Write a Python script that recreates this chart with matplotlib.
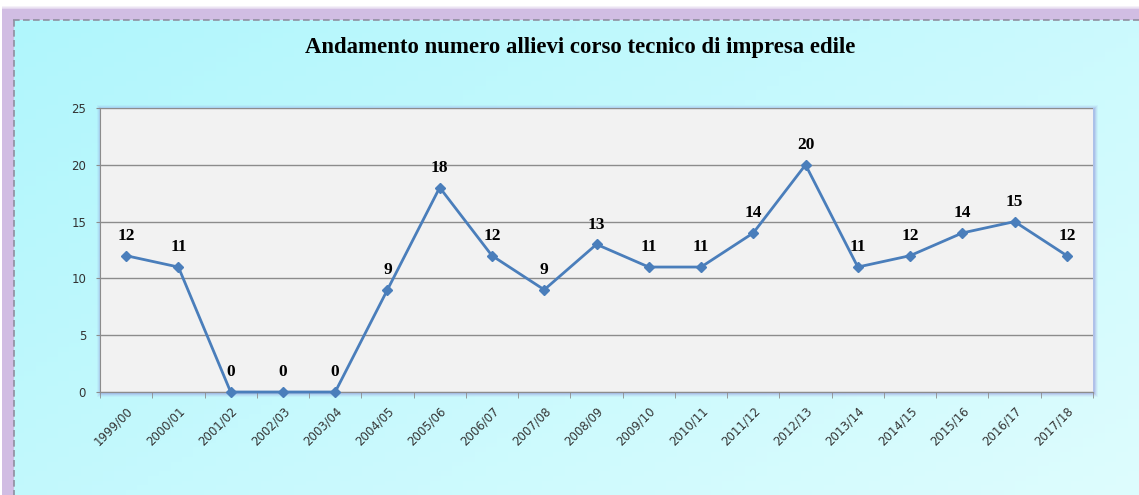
import matplotlib
matplotlib.use("Agg")
import matplotlib.pyplot as plt
import numpy as np
from matplotlib.patches import Rectangle

years = ["1999/00", "2000/01", "2001/02", "2002/03", "2003/04", "2004/05", "2005/06",
         "2006/07", "2007/08", "2008/09", "2009/10", "2010/11", "2011/12", "2012/13",
         "2013/14", "2014/15", "2015/16", "2016/17", "2017/18"]
students = [12, 11, 0, 0, 0, 9, 18, 12, 9, 13, 11, 11, 14, 20, 11, 12, 14, 15, 12]
title = "Andamento numero allievi corso tecnico di impresa edile"

W, H = 1139, 495
fig = plt.figure(figsize=(W / 100, H / 100), dpi=100)
fig.patch.set_facecolor("white")

# background with gradient and frame
bg = fig.add_axes([0, 0, 1, 1])
bg.set_xlim(0, W)
bg.set_ylim(H, 0)
bg.axis("off")
yy, xx = np.mgrid[0:100, 0:100] / 99.0
t = (xx * 0.6 + yy * 0.4)
c0 = np.array([0.69, 0.965, 0.99])
c1 = np.array([0.87, 0.99, 0.995])
img = c0[None, None, :] * (1 - t[..., None]) + c1[None, None, :] * t[..., None]
bg.imshow(img, extent=[13, W, H, 19], aspect="auto", zorder=0)
# purple frame (top and left)
purple = (0.82, 0.74, 0.89)
bg.add_patch(Rectangle((2, 9), W, 11, color=purple, lw=0, zorder=1))
bg.add_patch(Rectangle((2, 9), 11.5, H, color=purple, lw=0, zorder=1))
for i, a in enumerate([0.2, 0.4, 0.6]):
    bg.add_patch(Rectangle((2, 6 + i), W, 1, color=purple, alpha=a, lw=0, zorder=1))
bg.plot([13, W], [19.5, 19.5], color="#8f8f9f", lw=1.2, ls=(0, (4, 2)), zorder=2)
bg.plot([13.5, 13.5], [19.5, H], color="#8f8f9f", lw=1.2, ls=(0, (4, 2)), zorder=2)
# shadow around plot area
for i, a in enumerate([0.08, 0.12, 0.18, 0.25]):
    d = 4 - i
    bg.add_patch(Rectangle((100 - d + 1, 108 - d + 1), 993 + 2 * d, 284 + 2 * d,
                           color=(0.55, 0.55, 0.85), alpha=a, lw=0, zorder=3))

ax = fig.add_axes([100 / W, 1 - 392 / H, 993 / W, 284 / H])
ax.set_facecolor("#f2f2f2")
x = np.arange(len(years))
ax.plot(x, students, color="#4a7ebb", lw=2, marker="D", markersize=5.5,
        markerfacecolor="#4a7ebb", markeredgecolor="#4a7ebb", zorder=3, clip_on=False)
for xi, v in zip(x, students):
    ax.annotate(str(v), (xi, v), xytext=(0, 8.5), textcoords="offset points",
                ha="center", va="bottom", fontsize=12.5, fontweight="bold",
                family="Liberation Serif", color="black")
ax.set_xlim(-0.5, len(years) - 0.5)
ax.set_ylim(0, 25)
ax.set_yticks([0, 5, 10, 15, 20, 25])
ax.yaxis.grid(True, color="#8c8c8c", lw=1)
ax.set_axisbelow(True)
ax.set_xticks(x)
ax.set_xticklabels(years, rotation=45, ha="right", rotation_mode="anchor",
                   fontsize=8.5, color="#333333")
ax.set_xticks(np.arange(-0.5, len(years)), minor=True)
ax.tick_params(axis="x", which="major", length=0, pad=9)
ax.tick_params(axis="x", which="minor", length=4, color="#8c8c8c", direction="out")
ax.tick_params(axis="y", length=3, color="#8c8c8c", labelsize=8.5, labelcolor="#333333", pad=7)
for s in ["top", "right"]:
    ax.spines[s].set_visible(False)
ax.spines["left"].set_color("#8c8c8c")
ax.spines["bottom"].set_color("#8c8c8c")

fig.text(580 / W, 1 - 47 / H, title, ha="center", va="center", fontsize=16.4,
         fontweight="bold", family="Liberation Serif", color="black")

fig.savefig("out.png", dpi=100)
